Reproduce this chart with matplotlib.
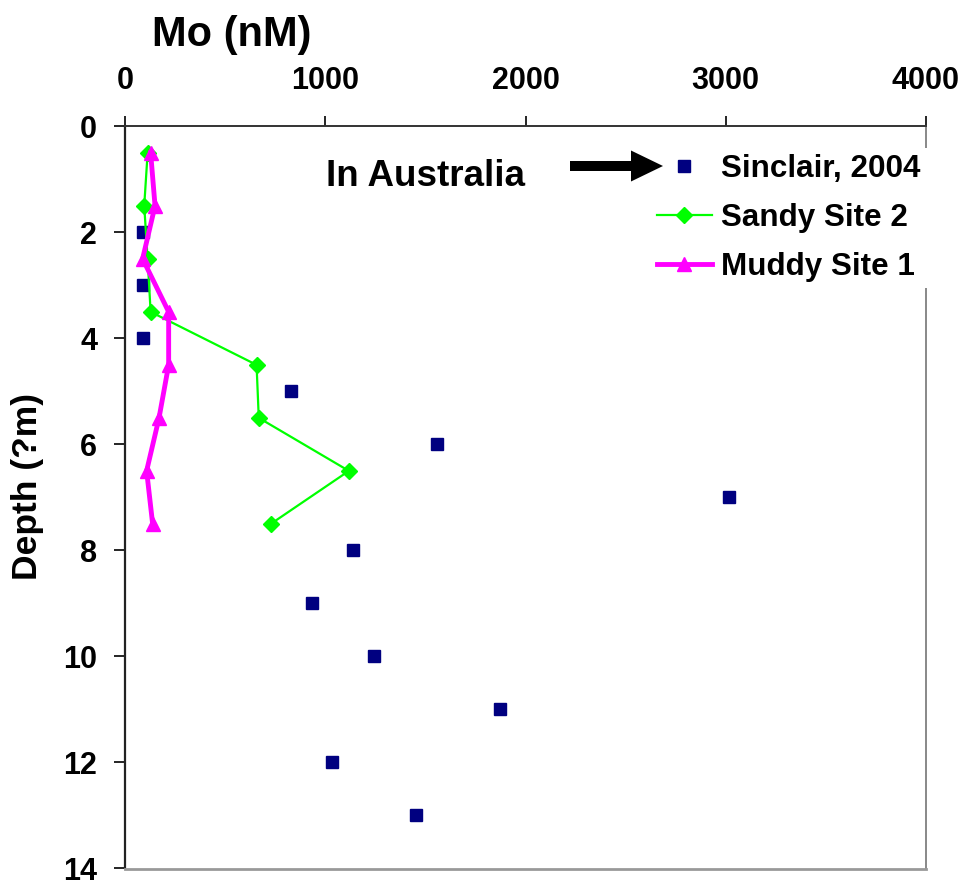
import matplotlib
matplotlib.use("Agg")
import matplotlib.pyplot as plt
from matplotlib.patches import FancyArrow
from matplotlib.transforms import IdentityTransform

plt.rcParams['font.family'] = ['Liberation Sans', 'DejaVu Sans']
plt.rcParams['font.weight'] = 'bold'

# Mo concentrations (nM) against depth
sinclair_depth = [2, 3, 4, 5, 6, 7, 8, 9, 10, 11, 12, 13]
sinclair_mo = [92, 92, 92, 830, 1560, 3015, 1140, 933, 1242, 1871, 1032, 1452]

site_depth = [0.5, 1.5, 2.5, 3.5, 4.5, 5.5, 6.5, 7.5]
sandy_mo = [113, 96, 113, 128, 657, 668, 1118, 728]
muddy_mo = [128, 150, 88, 218, 218, 170, 108, 138]

x_ticks = [0, 1000, 2000, 3000, 4000]
y_ticks = [0, 2, 4, 6, 8, 10, 12, 14]

W, H = 967, 884
fig = plt.figure(figsize=(W / 100, H / 100), dpi=100)
ax = fig.add_axes([125 / W, (H - 868.5) / H, (926 - 125) / W, (868.5 - 126.3) / H])

ax.plot(sinclair_mo, sinclair_depth, linestyle='none', marker='s', markersize=8,
        color='#000080', label='Sinclair, 2004', zorder=3)
ax.plot(sandy_mo, site_depth, color='#00FF00', lw=1.6, marker='D', markersize=8,
        label='Sandy Site 2', zorder=3)
ax.plot(muddy_mo, site_depth, color='#FF00FF', lw=3.5, marker='^', markersize=10.5,
        label='Muddy Site 1', zorder=4)

ax.set_xlim(0, 4000)
ax.set_ylim(14, 0)
ax.set_xticks(x_ticks)
ax.set_yticks(y_ticks)
ax.xaxis.tick_top()
ax.tick_params(axis='x', direction='out', length=7, width=1.2, pad=15,
               labelsize=22, colors='black')
ax.tick_params(axis='y', direction='out', length=8, width=1.2, pad=12,
               labelsize=22, colors='black')
for lab in ax.get_xticklabels() + ax.get_yticklabels():
    lab.set_fontweight('bold')

ax.spines['left'].set_color('#222222')
ax.spines['left'].set_linewidth(1.6)
ax.spines['top'].set_color('#333333')
ax.spines['top'].set_linewidth(1.4)
ax.spines['right'].set_color('#888888')
ax.spines['right'].set_linewidth(1.4)
ax.spines['bottom'].set_color('#999999')
ax.spines['bottom'].set_linewidth(2.0)

# Axis titles
fig.text(232 / W, (H - 46) / H, 'Mo (nM)', fontsize=30, fontweight='bold',
         ha='center', va='baseline')
fig.text(27.5 / W, (H - 487) / H, 'Depth (?m)', fontsize=25.5, fontweight='bold',
         ha='center', va='center', rotation=90)

# Annotation and arrow
ax.text(326 / W, (H - 186) / H, 'In Australia', transform=fig.transFigure,
        fontsize=26.5, fontweight='bold', ha='left', va='baseline')
fig.add_artist(FancyArrow(570, H - 166, 93, 0, width=10, head_width=31,
                          head_length=32, length_includes_head=True,
                          transform=IdentityTransform(), color='black', lw=0))

leg = ax.legend(loc='upper right', bbox_to_anchor=(927 / W, (H - 148) / H),
                bbox_transform=fig.transFigure, prop={'size': 22.6, 'weight': 'bold'},
                frameon=True, fancybox=False, framealpha=1, edgecolor='none',
                facecolor='white', borderpad=0.2, handlelength=1.75,
                handletextpad=0.3, labelspacing=0.6, borderaxespad=0,
                numpoints=1)

fig.savefig('out.png', dpi=100)
